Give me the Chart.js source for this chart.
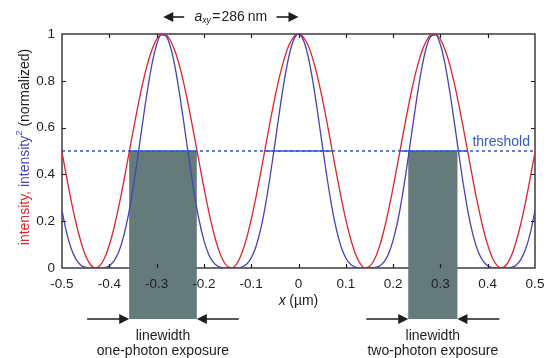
<!DOCTYPE html>
<html>
<head>
<meta charset="utf-8">
<script src="https://cdn.jsdelivr.net/npm/chart.js@4.4.1/dist/chart.umd.min.js"></script>
<style>
  html, body { margin: 0; padding: 0; background: #ffffff; }
  #c { display: block; }
</style>
</head>
<body>
<canvas id="c" width="546" height="358"></canvas>
<script>
// ---------------- data ----------------
const xValues = [
  -0.50,-0.49,-0.48,-0.47,-0.46,-0.45,-0.44,-0.43,-0.42,-0.41,
  -0.40,-0.39,-0.38,-0.37,-0.36,-0.35,-0.34,-0.33,-0.32,-0.31,
  -0.30,-0.29,-0.28,-0.27,-0.26,-0.25,-0.24,-0.23,-0.22,-0.21,
  -0.20,-0.19,-0.18,-0.17,-0.16,-0.15,-0.14,-0.13,-0.12,-0.11,
  -0.10,-0.09,-0.08,-0.07,-0.06,-0.05,-0.04,-0.03,-0.02,-0.01,
   0.00,
   0.01, 0.02, 0.03, 0.04, 0.05, 0.06, 0.07, 0.08, 0.09, 0.10,
   0.11, 0.12, 0.13, 0.14, 0.15, 0.16, 0.17, 0.18, 0.19, 0.20,
   0.21, 0.22, 0.23, 0.24, 0.25, 0.26, 0.27, 0.28, 0.29, 0.30,
   0.31, 0.32, 0.33, 0.34, 0.35, 0.36, 0.37, 0.38, 0.39, 0.40,
   0.41, 0.42, 0.43, 0.44, 0.45, 0.46, 0.47, 0.48, 0.49, 0.50
];
// intensity (red, normalized)
const intensity = [
  0.495,0.386,0.282,0.189,0.112,0.052,0.015,0.000,0.010,0.043,
  0.098,0.172,0.263,0.364,0.473,0.582,0.687,0.784,0.867,0.932,
  0.977,0.998,0.996,0.969,0.921,0.852,0.766,0.667,0.560,0.451,
  0.343,0.244,0.156,0.085,0.034,0.006,0.001,0.020,0.062,0.126,
  0.207,0.302,0.407,0.516,0.625,0.727,0.819,0.895,0.953,0.988,
  1.000,
  0.988,0.953,0.895,0.819,0.727,0.625,0.516,0.407,0.302,0.207,
  0.126,0.062,0.020,0.001,0.006,0.034,0.085,0.156,0.244,0.343,
  0.451,0.560,0.667,0.766,0.852,0.921,0.969,0.996,0.998,0.977,
  0.932,0.867,0.784,0.687,0.582,0.473,0.364,0.263,0.172,0.098,
  0.043,0.010,0.000,0.015,0.052,0.112,0.189,0.282,0.386,0.495
];
// intensity squared (blue, normalized)
const intensitySquared = [
  0.245,0.149,0.080,0.036,0.012,0.003,0.000,0.000,0.000,0.002,
  0.010,0.030,0.069,0.133,0.223,0.339,0.473,0.615,0.751,0.869,
  0.954,0.996,0.991,0.940,0.848,0.725,0.586,0.445,0.314,0.203,
  0.118,0.059,0.024,0.007,0.001,0.000,0.000,0.000,0.004,0.016,
  0.043,0.091,0.166,0.267,0.391,0.529,0.671,0.802,0.907,0.976,
  1.000,
  0.976,0.907,0.802,0.671,0.529,0.391,0.267,0.166,0.091,0.043,
  0.016,0.004,0.000,0.000,0.000,0.001,0.007,0.024,0.059,0.118,
  0.203,0.314,0.445,0.586,0.725,0.848,0.940,0.991,0.996,0.954,
  0.869,0.751,0.615,0.473,0.339,0.223,0.133,0.069,0.030,0.010,
  0.002,0.000,0.000,0.000,0.003,0.012,0.036,0.080,0.149,0.245
];
const thresholdLevel = 0.5;
const thresholdExtent = [-0.5, 0.5];
const thresholdSolid = [[-0.358, -0.215], [-0.072, 0.072], [0.215, 0.358]];
const onePhotonRange = [-0.358, -0.215];
const twoPhotonRange = [0.232, 0.336];
const periodMarks = [-0.286, 0];   // a_xy arrow ends (µm)
const periodLabel = '286';
const xTickValues = [-0.5,-0.4,-0.3,-0.2,-0.1,0,0.1,0.2,0.3,0.4,0.5];
const yTickValues = [0,0.2,0.4,0.6,0.8,1];

// ---------------- styles ----------------
const RED = '#e3222e';
const BLUE = '#4444b6';
const TBLUE = '#2f5cc4';
const SHADE = '#657a7a';
const INK = '#1e1e1e';
const FONT = '"Liberation Sans", Arial, Helvetica, sans-serif';

const pts = (ys) => xValues.map((x, i) => ({ x: x, y: ys[i] }));

const datasets = [
  { label: 'threshold', data: thresholdExtent.map(v => ({ x: v, y: thresholdLevel })),
    borderColor: TBLUE, borderWidth: 1.5, borderDash: [3, 3], pointRadius: 0, order: 0 },
  ...thresholdSolid.map((s, i) => ({
    label: 'thr' + i, data: s.map(v => ({ x: v, y: thresholdLevel })),
    borderColor: TBLUE, borderWidth: 1.5, pointRadius: 0, order: 0 })),
  { label: 'intensity', data: pts(intensity), borderColor: RED, borderWidth: 1.3,
    pointRadius: 0, cubicInterpolationMode: 'monotone', order: 2 },
  { label: 'intensity2', data: pts(intensitySquared), borderColor: BLUE, borderWidth: 1.3,
    pointRadius: 0, cubicInterpolationMode: 'monotone', order: 1 }
];

function arrow(ctx, xTail, xTip, y, head, half) {
  const dir = Math.sign(xTip - xTail);
  ctx.beginPath();
  ctx.moveTo(xTail, y);
  ctx.lineTo(xTip - dir * head * 0.8, y);
  ctx.stroke();
  ctx.beginPath();
  ctx.moveTo(xTip, y);
  ctx.lineTo(xTip - dir * head, y - half);
  ctx.lineTo(xTip - dir * head, y + half);
  ctx.closePath();
  ctx.fill();
}

function drawRuns(ctx, runs, x, y, align) {
  let total = 0;
  runs.forEach(r => { ctx.font = r.font; r.w = ctx.measureText(r.t).width; total += r.w + (r.gap || 0); });
  let cx = align === 'center' ? x - total / 2 : x;
  runs.forEach(r => {
    ctx.font = r.font; ctx.fillStyle = r.color || INK;
    ctx.fillText(r.t, cx, y + (r.dy || 0));
    cx += r.w + (r.gap || 0);
  });
}

const annot = {
  id: 'annot',
  beforeDraw(chart) {
    const { ctx, chartArea: ca, scales: { x, y } } = chart;
    ctx.save();
    ctx.strokeStyle = INK; ctx.lineWidth = 1.3;
    ctx.strokeRect(ca.left, ca.top, ca.right - ca.left, ca.bottom - ca.top);
    ctx.fillStyle = SHADE;
    const yt = y.getPixelForValue(thresholdLevel);
    [onePhotonRange, twoPhotonRange].forEach(r => {
      const x0 = x.getPixelForValue(r[0]), x1 = x.getPixelForValue(r[1]);
      ctx.fillRect(x0, yt, x1 - x0, ca.bottom + 51 - yt);
    });
    ctx.restore();
  },
  afterDatasetsDraw(chart) {
    const { ctx, chartArea: ca, scales: { x, y } } = chart;
    ctx.save();
    ctx.strokeStyle = INK; ctx.lineWidth = 1.2;
    ctx.beginPath();
    xTickValues.slice(1, -1).forEach(v => {
      const px = Math.round(x.getPixelForValue(v)) + 0.5;
      ctx.moveTo(px, ca.bottom); ctx.lineTo(px, ca.bottom - 4);
      ctx.moveTo(px, ca.top); ctx.lineTo(px, ca.top + 4);
    });
    yTickValues.slice(1, -1).forEach(v => {
      const py = Math.round(y.getPixelForValue(v)) + 0.5;
      ctx.moveTo(ca.left, py); ctx.lineTo(ca.left + 4, py);
      ctx.moveTo(ca.right, py); ctx.lineTo(ca.right - 4, py);
    });
    ctx.stroke();
    ctx.restore();
  },
  afterDraw(chart) {
    const { ctx, chartArea: ca, scales: { x, y } } = chart;
    ctx.save();
    ctx.textBaseline = 'middle';
    ctx.fillStyle = INK; ctx.strokeStyle = INK; ctx.lineWidth = 1.6;

    // top a_xy arrows
    const pA = x.getPixelForValue(periodMarks[0]), pB = x.getPixelForValue(periodMarks[1]);
    const ty = 17;
    arrow(ctx, pA + 21, pA, ty, 10, 5);
    arrow(ctx, pB - 22, pB, ty, 10, 5);
    drawRuns(ctx, [
      { t: 'a', font: 'italic 14px ' + FONT },
      { t: 'xy', font: 'italic 8.5px ' + FONT, dy: 4, gap: 1.5 },
      { t: '=', font: '14px ' + FONT, gap: 1 },
      { t: periodLabel, font: '14px ' + FONT, gap: 3 },
      { t: 'nm', font: '14px ' + FONT }
    ], (pA + pB) / 2, ty, 'center');

    // threshold label
    ctx.font = '14px ' + FONT; ctx.fillStyle = TBLUE; ctx.textAlign = 'right';
    ctx.fillText('threshold', ca.right - 5, y.getPixelForValue(thresholdLevel) - 9);
    ctx.textAlign = 'left';

    // x axis title
    drawRuns(ctx, [
      { t: 'x', font: 'italic 14px ' + FONT, gap: 3.5 },
      { t: '(µm)', font: '14px ' + FONT }
    ], (ca.left + ca.right) / 2, ca.bottom + 33, 'center');

    // bottom linewidth arrows and labels
    const ay = ca.bottom + 51;
    ctx.lineWidth = 1.6;
    [[onePhotonRange, 'one-photon exposure'], [twoPhotonRange, 'two-photon exposure']].forEach(([r, lab]) => {
      const x0 = x.getPixelForValue(r[0]), x1 = x.getPixelForValue(r[1]);
      ctx.fillStyle = INK;
      arrow(ctx, x0 - 42, x0, ay, 10, 5);
      arrow(ctx, x1 + 42, x1, ay, 10, 5);
      ctx.font = '14px ' + FONT; ctx.textAlign = 'center';
      ctx.textBaseline = 'alphabetic';
      ctx.fillText('linewidth', (x0 + x1) / 2, ay + 21);
      ctx.fillText(lab, (x0 + x1) / 2, ay + 36);
      ctx.textBaseline = 'middle';
      ctx.textAlign = 'left';
    });

    // y axis title (multicolour, rotated)
    ctx.translate(25, (ca.top + ca.bottom) / 2 - 4);
    ctx.rotate(-Math.PI / 2);
    drawRuns(ctx, [
      { t: 'intensity,', font: '14px ' + FONT, color: RED, gap: 3.9 },
      { t: 'intensity', font: '14px ' + FONT, color: BLUE },
      { t: '2', font: '9.5px ' + FONT, color: BLUE, dy: -5.5, gap: 3.9 },
      { t: '(normalized)', font: '14px ' + FONT, color: INK }
    ], 0, 0, 'center');
    ctx.restore();
  }
};

const fmt = v => String(Math.round(v * 10) / 10);

new Chart(document.getElementById('c'), {
  type: 'line',
  data: { datasets: datasets },
  options: {
    responsive: false,
    animation: false,
    devicePixelRatio: 1,
    layout: { padding: { top: 34, right: 11, left: 0, bottom: 0 } },
    plugins: { legend: { display: false }, tooltip: { enabled: false }, title: { display: false } },
    elements: { line: { tension: 0 } },
    scales: {
      x: {
        type: 'linear', min: xTickValues[0], max: xTickValues[xTickValues.length - 1],
        afterBuildTicks: s => { s.ticks = xTickValues.map(v => ({ value: v })); },
        ticks: { callback: fmt, color: INK, font: { family: FONT, size: 13.5 }, padding: 8,
                 maxRotation: 0, autoSkip: false },
        grid: { display: false, drawTicks: false },
        border: { display: false },
        afterFit: s => { s.height = 90; s.paddingLeft = 0; s.paddingRight = 0; }
      },
      y: {
        type: 'linear', min: yTickValues[0], max: yTickValues[yTickValues.length - 1],
        afterBuildTicks: s => { s.ticks = yTickValues.map(v => ({ value: v })); },
        ticks: { callback: fmt, color: INK, font: { family: FONT, size: 13.5 }, padding: 7 },
        grid: { display: false, drawTicks: false },
        border: { display: false },
        afterFit: s => { s.width = 62; s.paddingTop = 0; s.paddingBottom = 0; }
      }
    }
  },
  plugins: [annot]
});
</script>
</body>
</html>
